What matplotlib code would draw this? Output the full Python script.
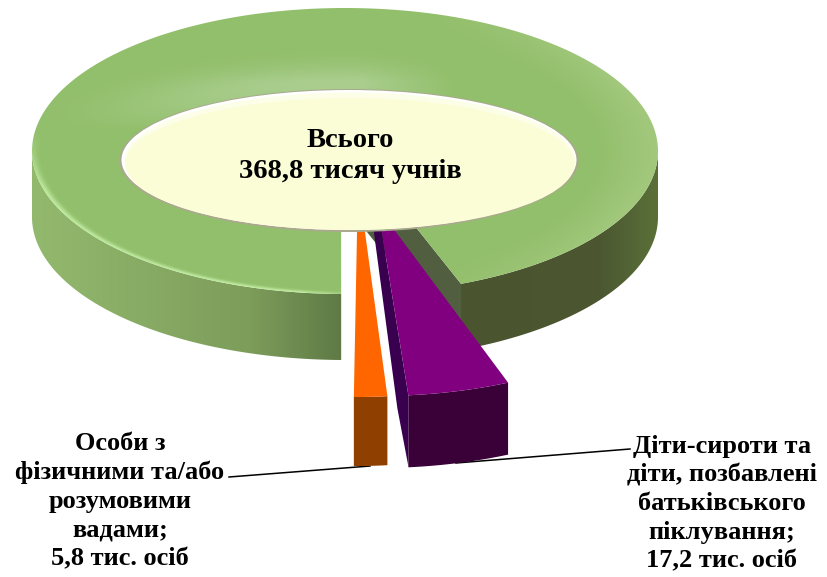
#!/usr/bin/env python3
"""3D donut of pupils: one green ring with two pulled-out slices."""

import numpy as np
import matplotlib
matplotlib.use("Agg")
import matplotlib.pyplot as plt
from matplotlib.patches import Ellipse, Polygon

TOTAL = 368.8
values = [5.8, 17.2]
center_text = "Всього\n368,8 тисяч учнів"
label_left = "Особи з\nфізичними та/або\nрозумовими\nвадами;\n5,8 тис. осіб"
label_right = "Діти-сироти та\nдіти, позбавлені\nбатьківського\nпіклування;\n17,2 тис. осіб"

# ring geometry, in pixels of the picture
CX, CY, A, B = 345, 151, 313, 143
DEPTH = 66
START = 90.7
# pulled-out slices: apex x, apex y, radius x, radius y
EXPLODE = [(358, 181, 340, 216), (378, 208, 351, 188)]


def rgb(hexcolor):
    return np.array(matplotlib.colors.to_rgb(hexcolor))


def arc(cx, cy, a, b, t1, t2, n=200):
    t = np.radians(np.linspace(t1, t2, n))
    return np.column_stack([cx + a * np.cos(t), cy + b * np.sin(t)])


def shaded(ax, outline, img, box, z):
    patch = Polygon(outline, closed=True, transform=ax.transData)
    im = ax.imshow(img, extent=box, aspect="auto", zorder=z, interpolation="bilinear")
    im.set_clip_path(patch)


fig = plt.figure(figsize=(8.28, 5.77), dpi=100)
ax = fig.add_axes([0, 0, 1, 1])
ax.set_xlim(0, 828)
ax.set_ylim(577, 0)
ax.axis("off")

# slice angles come from the values
sweep = [v / TOTAL * 360 for v in values]
t_orange = (START, START - sweep[0])
t_purple = (t_orange[1], t_orange[1] - sweep[1])
t_end = t_purple[1]

# side wall of the ring
xs = np.linspace(0, 828, 828)
stops_x = [32, 250, 340, 463, 600, 658]
wall_cols = np.array([rgb(c) for c in ["#93b96e", "#7d9d5b", "#5f7a46", "#4a5530", "#4c5731", "#5a7038"]])
wall_img = np.stack([np.interp(xs, stops_x, wall_cols[:, i]) for i in range(3)], axis=-1)[None, :, :]
top_l = arc(CX, CY, A, B, 180, START)
wall_l = np.vstack([top_l, top_l[::-1] + [0, DEPTH]])
top_r = arc(CX, CY, A, B, t_end, 0)
wall_r = np.vstack([top_r, top_r[::-1] + [0, DEPTH]])
box = (0, 828, 577, 0)
shaded(ax, wall_l, wall_img, box, 1)
shaded(ax, wall_r, wall_img, box, 1)

# cut face on the right end of the ring
p_end = arc(CX, CY, A, B, t_end, t_end, 1)[0]
ax.add_patch(Polygon([(CX + 10, CY), p_end, p_end + [0, DEPTH], (CX + 10, CY + DEPTH)],
                     closed=True, fc="#515f40", ec="none", zorder=2))

# top face of the ring
gx, gy = np.meshgrid(np.linspace(0, 828, 828), np.linspace(0, 400, 400))
rho = np.hypot((gx - CX) / A, (gy - CY) / B)
hole = np.hypot((gx - 349) / 229, (gy - 160) / 72)
back = np.clip((CY - 20 - gy) / 50, 0, 1)
glow = np.exp(-((hole - 1) / 0.3) ** 2) * back * np.clip((460 - gx) / 100, 0, 1) * 0.75
rim = np.exp(-((1 - rho) / 0.015) ** 2) * np.clip((gy - CY + 20) / 60, 0, 1) * np.clip((360 - gx) / 60, 0, 1)
band = np.clip((rho - 0.8) / 0.2, 0, 1) * np.clip((gx - 420) / 200, 0, 1) * 0.7
img = rgb("#92bf6b") * np.ones(gx.shape + (3,))
img = img + (rgb("#b6d5a0") - img) * glow[..., None]
img = img + (rgb("#a9cc84") - img) * band[..., None]
img = img + (rgb("#bce89c") - img) * rim[..., None]
ring = np.vstack([[(CX + 10, CY)], arc(CX, CY, A, B, t_end, START - 360, 600), [(CX - 4, CY)]])
shaded(ax, ring, img, (0, 828, 400, 0), 3)

# orange slice
ox, oy, oa, ob = EXPLODE[0]
edge = arc(ox, oy, oa, ob, *t_orange, 30)
ax.add_patch(Polygon(np.vstack([edge, edge[::-1] + [0, 69]]), closed=True, fc="#8f3f00", ec="none", zorder=4))
ax.add_patch(Polygon(np.vstack([[(ox, oy)], edge]), closed=True, fc="#ff6600", ec="none", zorder=5))

# purple slice, the inner wall shows on its left
px, py, pa, pb = EXPLODE[1]
edge = arc(px, py, pa, pb, *t_purple, 30)
ax.add_patch(Polygon([(px, py), edge[0], edge[0] + [0, 71], edge[0] + [-11, 13], (px - 4, py + 25)],
                     closed=True, fc="#3a0050", ec="none", zorder=4))
ax.add_patch(Polygon(np.vstack([edge, edge[::-1] + [0, 72]]), closed=True, fc="#3a0038", ec="none", zorder=4))
ax.add_patch(Polygon(np.vstack([[(px, py)], edge]), closed=True, fc="#800080", ec="none", zorder=5))

# centre ellipse
ax.add_patch(Ellipse((349, 160.5), 459, 143, fc="#aaa98f", ec="none", zorder=6))
ax.add_patch(Ellipse((349, 160), 455, 140, fc="#ffffff", ec="none", zorder=7))
ax.add_patch(Ellipse((350, 161), 451, 137, fc="#fdfee8", ec="none", zorder=7))
ax.add_patch(Ellipse((350, 164), 449, 132, fc="#fbfdd6", ec="none", zorder=8))

# leader lines
ax.plot([229, 370], [477, 466], color="black", lw=1.1, zorder=3)
ax.plot([456, 630], [463, 449], color="black", lw=1.1, zorder=3)

font = dict(family="Liberation Serif", fontweight="bold", ha="center", va="center", color="black")
ax.text(350, 156, center_text, fontsize=20.5, linespacing=1.28, zorder=9, **font)
ax.text(120, 501, label_left, fontsize=19, linespacing=1.32, zorder=9, **font)
ax.text(722, 504, label_right, fontsize=19, linespacing=1.31, zorder=9, **font)

fig.savefig("out.png", dpi=100)
